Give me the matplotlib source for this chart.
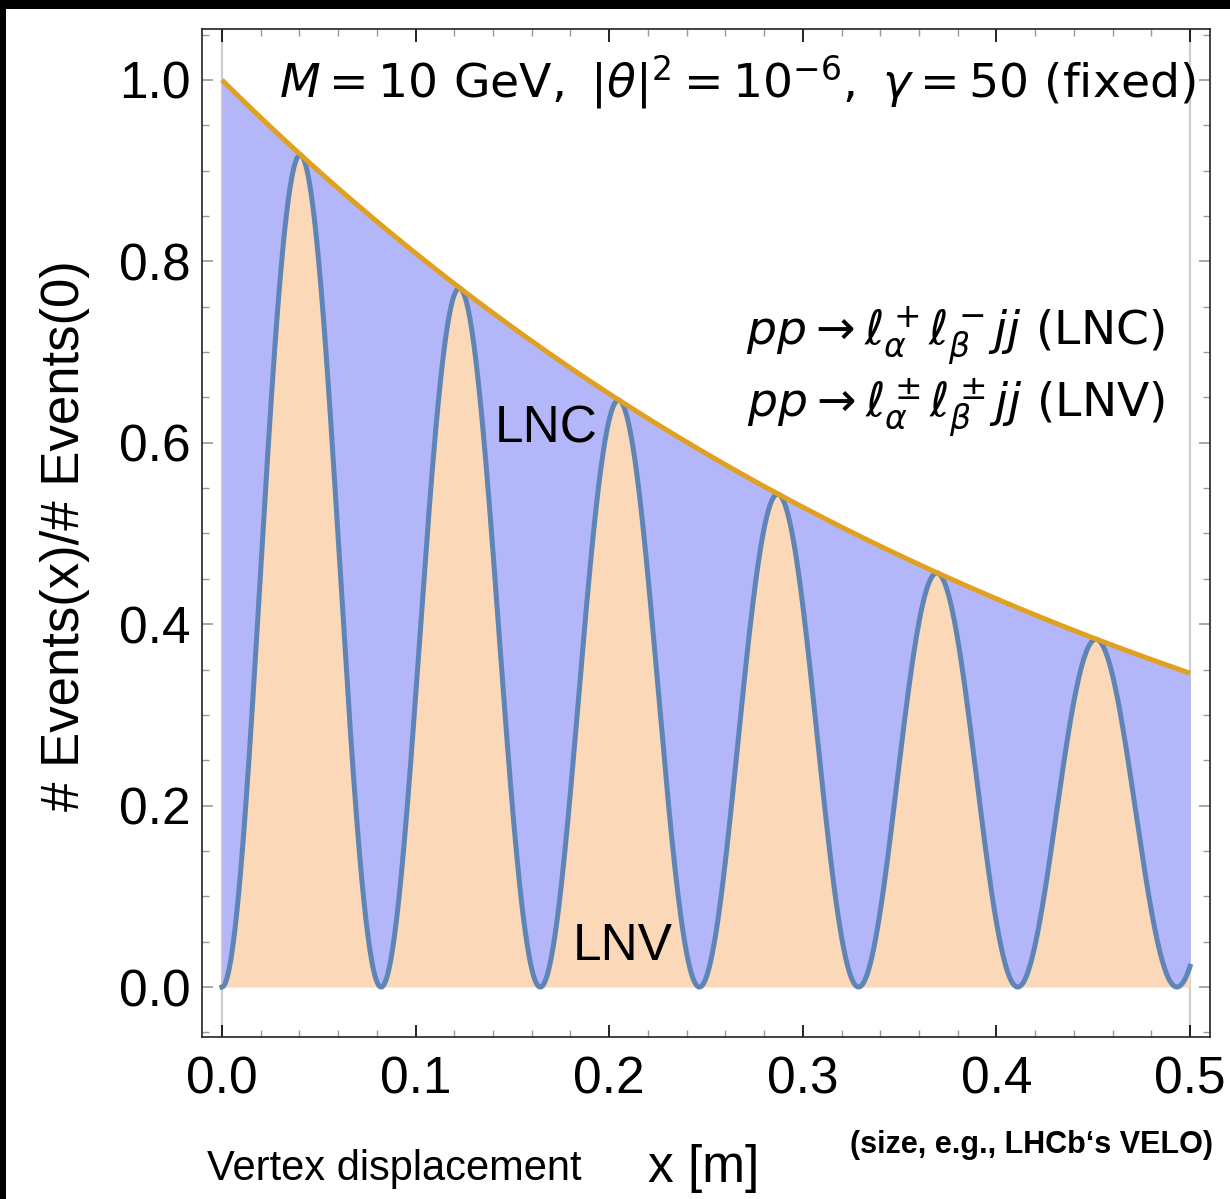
import numpy as np
import matplotlib
matplotlib.use('Agg')
import matplotlib.pyplot as plt
from matplotlib.patches import Rectangle
from matplotlib.ticker import MultipleLocator

# values
env_x = [0.0, 0.1, 0.2, 0.3, 0.4, 0.5]
env_y = [1.000, 0.809, 0.654, 0.529, 0.428, 0.346]      # decay envelope (LNC + LNV)
lnv_zero_x = [0.0, 0.0822, 0.1644, 0.2466, 0.3288, 0.4110, 0.4932]  # LNV minima
x_ticks = [0.0, 0.1, 0.2, 0.3, 0.4, 0.5]
y_ticks = [0.0, 0.2, 0.4, 0.6, 0.8, 1.0]

plt.rcParams['font.family'] = ['Liberation Sans', 'DejaVu Sans']
plt.rcParams['mathtext.fontset'] = 'dejavusans'

# curves: envelope through the read points, LNV oscillates with the read period
x = np.linspace(0, 0.5, 1500)
env = np.exp(np.interp(x, env_x, np.log(env_y)))
period = np.mean(np.diff(lnv_zero_x))
lnv = env * np.sin(np.pi * x / period) ** 2

fig = plt.figure(figsize=(12.3, 11.99), dpi=100, facecolor='black')
fig.patches.append(Rectangle((6 / 1230, 0), 1, 1 - 9 / 1199, transform=fig.transFigure,
                             facecolor='white', edgecolor='none', zorder=-10))

ax = fig.add_axes([202 / 1230, 1 - 1037 / 1199, 1008 / 1230, 1008 / 1199])
ax.set_zorder(2)
ax.set_facecolor('none')
ax.set_xlim(-0.0103, 0.5103)
ax.set_ylim(-0.0551, 1.0562)

ax.fill_between(x, 0, lnv, color='#fbd8b8', lw=0, zorder=1)
ax.fill_between(x, lnv, env, color='#b3b6f9', lw=0, zorder=1)
ax.axvline(0, color='#cccccc', lw=1.5, zorder=0.5)
ax.axvline(0.5, color='#cccccc', lw=1.5, zorder=0.5)
ax.plot(x, lnv, color='#5f84b6', lw=3.6, zorder=3)
ax.plot(x, env, color='#e0a020', lw=3.6, zorder=4, solid_capstyle='butt')

# frame ticks, Mathematica style
ax.set_xticks(x_ticks)
ax.set_xticklabels(['%.1f' % v for v in x_ticks])
ax.set_yticks(y_ticks)
ax.set_yticklabels(['%.1f' % v for v in y_ticks])
ax.xaxis.set_minor_locator(MultipleLocator(0.02))
ax.yaxis.set_minor_locator(MultipleLocator(0.05))
ax.tick_params(axis='both', which='both', direction='in', top=True, right=True)
ax.tick_params(axis='x', which='major', length=9, width=1.2, color='black',
               labelsize=37, pad=13)
ax.tick_params(axis='x', which='minor', length=5, width=1.0, color='#999999')
ax.tick_params(axis='y', which='major', length=8, width=1.2, color='#999999',
               labelsize=37, pad=8)
ax.tick_params(axis='y', which='minor', length=5, width=1.0, color='#999999')
for s in ax.spines.values():
    s.set_linewidth(1.2)
    s.set_color('#222222')

fig.text(1195 / 1230, 1 - 97 / 1199,
         r'$M = 10\ \mathrm{GeV},\ |\theta|^2 = 10^{-6},\ \gamma = 50\ \mathrm{(fixed)}$',
         fontsize=34, ha='right', va='baseline')
fig.text(1165 / 1230, 1 - 345 / 1199,
         r'$pp \rightarrow \ell^+_\alpha \ell^-_\beta jj\ \mathrm{(LNC)}$',
         fontsize=34, ha='right', va='baseline')
fig.text(1165 / 1230, 1 - 418 / 1199,
         r'$pp \rightarrow \ell^\pm_\alpha \ell^\pm_\beta jj\ \mathrm{(LNV)}$',
         fontsize=34, ha='right', va='baseline')

fig.text(495 / 1230, 1 - 443 / 1199, 'LNC', fontsize=37, ha='left', va='baseline')
fig.text(573 / 1230, 1 - 960 / 1199, 'LNV', fontsize=37, ha='left', va='baseline')

fig.text(65 / 1230, 1 - 536 / 1199, '# Events(x)/# Events(0)', fontsize=38,
         rotation=90, ha='center', va='center')
fig.text(207 / 1230, 1 - 1180 / 1199, 'Vertex displacement', fontsize=30,
         ha='left', va='baseline')
fig.text(648 / 1230, 1 - 1182 / 1199, 'x [m]', fontsize=37, ha='left', va='baseline')
fig.text(1032 / 1230, 1 - 1153 / 1199, '(size, e.g., LHCb‘s VELO)', fontsize=22,
         fontweight='bold', ha='center', va='baseline')

fig.savefig('out.png', dpi=100, facecolor=fig.get_facecolor())
